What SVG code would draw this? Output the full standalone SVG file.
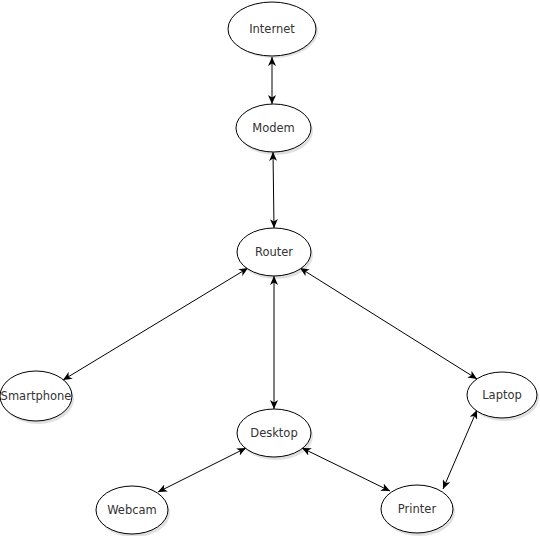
<svg xmlns="http://www.w3.org/2000/svg" width="540" height="536" viewBox="0 0 540 536">
<style>
.n ellipse.s{fill:#000;opacity:0.12}
.n ellipse.b{fill:#fff;stroke:#000;stroke-width:1}
.n text{font-family:"DejaVu Sans",Verdana,sans-serif;font-size:11.5px;fill:#333;text-anchor:middle}
.c line{stroke:#000;stroke-width:1;marker-start:url(#a);marker-end:url(#a)}
</style>
<defs>
<marker id="a" markerUnits="userSpaceOnUse" markerWidth="10" markerHeight="8" refX="9" refY="4" orient="auto-start-reverse">
<path d="M0,0 L9,4 L0,8 L2.5,4 Z" fill="#000"/>
</marker>
</defs>
<rect width="540" height="536" fill="#fff"/>
<g class="c">
<line x1="272" y1="57" x2="272" y2="104"/>
<line x1="273" y1="152" x2="274" y2="228"/>
<line x1="274" y1="276" x2="274" y2="409"/>
<line x1="248" y1="268" x2="63" y2="380"/>
<line x1="300" y1="268" x2="477" y2="379"/>
<line x1="246" y1="448" x2="158" y2="492"/>
<line x1="302" y1="448" x2="390" y2="491"/>
<line x1="477" y1="410" x2="443" y2="489"/>
</g>
<g id="internet" class="n"><ellipse class="s" cx="274" cy="31" rx="44" ry="27"/><ellipse class="b" cx="272" cy="29" rx="44" ry="27"/><text x="272" y="33">Internet</text></g>
<g id="modem" class="n"><ellipse class="s" cx="275.5" cy="131" rx="37.5" ry="24"/><ellipse class="b" cx="273.5" cy="128" rx="37.5" ry="24"/><text x="273.5" y="132">Modem</text></g>
<g id="router" class="n"><ellipse class="s" cx="276" cy="255" rx="37" ry="24"/><ellipse class="b" cx="274" cy="252" rx="37" ry="24"/><text x="274" y="256">Router</text></g>
<g id="smartphone" class="n"><ellipse class="s" cx="38" cy="399" rx="36" ry="25"/><ellipse class="b" cx="36" cy="396" rx="36" ry="25"/><text x="36" y="400">Smartphone</text></g>
<g id="desktop" class="n"><ellipse class="s" cx="276" cy="436" rx="37" ry="24"/><ellipse class="b" cx="274" cy="433" rx="37" ry="24"/><text x="274" y="437">Desktop</text></g>
<g id="laptop" class="n"><ellipse class="s" cx="504" cy="398" rx="35" ry="23"/><ellipse class="b" cx="502" cy="395" rx="35" ry="23"/><text x="502" y="399">Laptop</text></g>
<g id="webcam" class="n"><ellipse class="s" cx="134" cy="513" rx="36" ry="24"/><ellipse class="b" cx="132" cy="510" rx="36" ry="24"/><text x="132" y="514">Webcam</text></g>
<g id="printer" class="n"><ellipse class="s" cx="419" cy="512" rx="36" ry="24"/><ellipse class="b" cx="417" cy="509" rx="36" ry="24"/><text x="417" y="513">Printer</text></g>
</svg>
